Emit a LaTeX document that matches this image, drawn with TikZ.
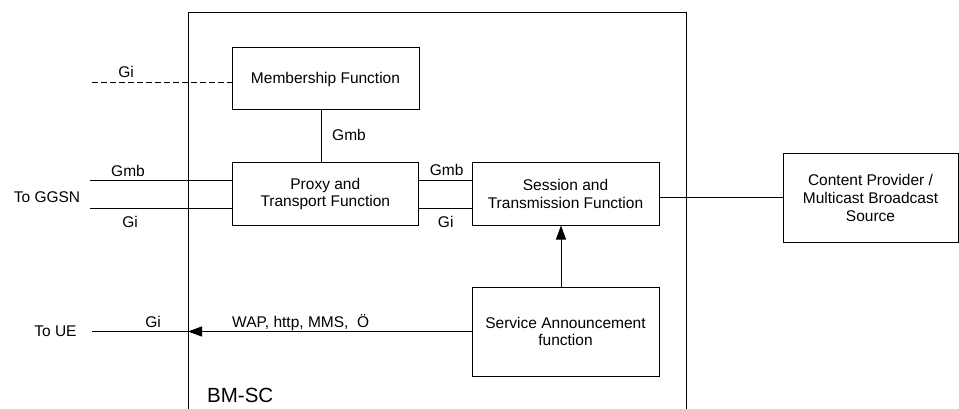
\documentclass[tikz,border=0pt]{standalone}
\usepackage{fontspec}
\setmainfont{Liberation Sans}
\usetikzlibrary{arrows.meta,calc}
\tikzset{
  fbox/.style={draw, line width=1pt, minimum width=187pt, minimum height=62pt, inner sep=0pt, align=center, font=\fontsize{15.5}{17.7}\selectfont},
  lbl/.style={inner sep=0pt, font=\fontsize{15.5}{17.7}\selectfont},
  conn/.style={line width=1pt},
  tip/.style={-{Triangle[length=14pt,width=10pt]}}
}
\begin{document}
\begin{tikzpicture}[x=1pt,y=-1pt]
\useasboundingbox (0,0) rectangle (959,409);
% container
\node[draw, line width=1pt, minimum width=498pt, minimum height=430pt, inner sep=0pt, anchor=north west] (bmsc) at (188,12) {};
\node[lbl, font=\fontsize{20.5}{24}\selectfont, anchor=west] (bmsclbl) at (207,395) {BM-SC};
% boxes
\node[fbox] (mf) at (325.5,79) {Membership Function};
\node[fbox, minimum width=186.5pt] (pt) at (325.3,194) {Proxy and\\Transport Function};
\node[fbox] (st) at (565.5,194) {Session and\\Transmission Function};
\node[fbox, minimum width=175pt, minimum height=88pt] (cp) at (870.5,198) {Content Provider /\\Multicast Broadcast\\Source};
\node[fbox, minimum height=89pt] (sa) at (565.5,331.5) {Service Announcement\\function};
% free ends
\coordinate (giend) at (92,83);
\coordinate (gmbend) at (90,181);
\coordinate (gi2end) at (90,208);
\coordinate (ueend) at (92,331.5);
% connectors
\draw[conn, dash pattern=on 6pt off 3pt] (giend) -- (mf.west |- giend);
\draw[conn] ([xshift=-4.5pt]mf.south) -- ([xshift=-4.5pt]mf.south |- pt.north);
\draw[conn] (gmbend) -- (pt.west |- gmbend);
\draw[conn] (gi2end) -- (pt.west |- gi2end);
\draw[conn] (pt.east |- gmbend) -- (st.west |- gmbend);
\draw[conn] (pt.east |- gi2end) -- (st.west |- gi2end);
\draw[conn] (st.east |- cp.west) -- (cp.west);
\draw[conn, tip] ([xshift=-4.5pt]sa.north) -- ([xshift=-4.5pt]st.south);
\draw[conn, tip] (sa.west) -- (bmsc.west |- sa.west);
\draw[conn] (bmsc.west |- sa.west) -- (ueend);
% labels
\node[lbl] (l1) at (126,72) {Gi};
\node[lbl] (l2) at (349,135) {Gmb};
\node[lbl] (l3) at (128,171) {Gmb};
\node[lbl] (l4) at (47,197) {To GGSN};
\node[lbl] (l5) at (130,222) {Gi};
\node[lbl] (l6) at (446.7,170) {Gmb};
\node[lbl] (l7) at (445.7,222) {Gi};
\node[lbl] (l8) at (55.5,331) {To UE};
\node[lbl] (l9) at (153,322) {Gi};
\node[lbl, anchor=west] (l10) at (232,323) {WAP, http, MMS,\ \ Ö};
\end{tikzpicture}
\end{document}
